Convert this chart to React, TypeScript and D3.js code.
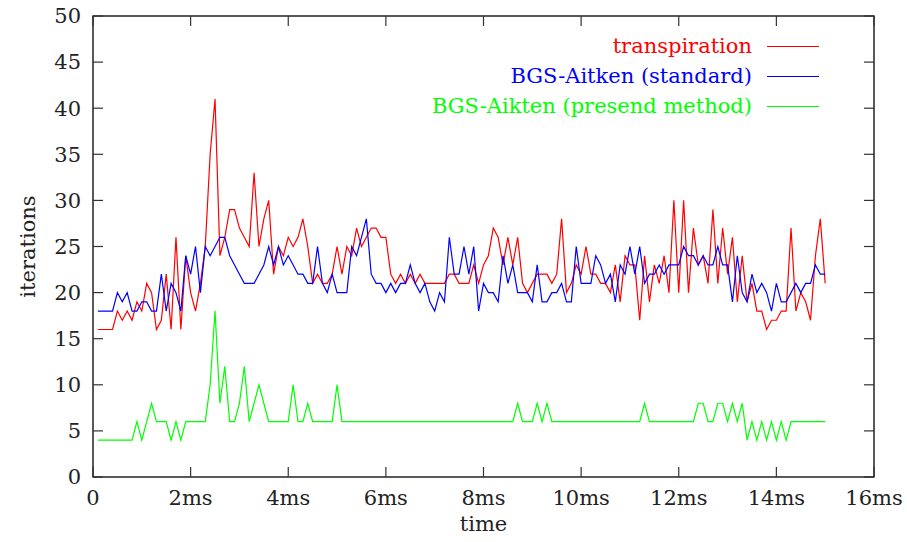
import React from "react";
import * as d3 from "d3";

const times: number[] = [
  0.1, 0.2, 0.3, 0.4, 0.5, 0.6, 0.7, 0.8, 0.9, 1.0,
  1.1, 1.2, 1.3, 1.4, 1.5, 1.6, 1.7, 1.8, 1.9, 2.0,
  2.1, 2.2, 2.3, 2.4, 2.5, 2.6, 2.7, 2.8, 2.9, 3.0,
  3.1, 3.2, 3.3, 3.4, 3.5, 3.6, 3.7, 3.8, 3.9, 4.0,
  4.1, 4.2, 4.3, 4.4, 4.5, 4.6, 4.7, 4.8, 4.9, 5.0,
  5.1, 5.2, 5.3, 5.4, 5.5, 5.6, 5.7, 5.8, 5.9, 6.0,
  6.1, 6.2, 6.3, 6.4, 6.5, 6.6, 6.7, 6.8, 6.9, 7.0,
  7.1, 7.2, 7.3, 7.4, 7.5, 7.6, 7.7, 7.8, 7.9, 8.0,
  8.1, 8.2, 8.3, 8.4, 8.5, 8.6, 8.7, 8.8, 8.9, 9.0,
  9.1, 9.2, 9.3, 9.4, 9.5, 9.6, 9.7, 9.8, 9.9, 10.0,
  10.1, 10.2, 10.3, 10.4, 10.5, 10.6, 10.7, 10.8, 10.9, 11.0,
  11.1, 11.2, 11.3, 11.4, 11.5, 11.6, 11.7, 11.8, 11.9, 12.0,
  12.1, 12.2, 12.3, 12.4, 12.5, 12.6, 12.7, 12.8, 12.9, 13.0,
  13.1, 13.2, 13.3, 13.4, 13.5, 13.6, 13.7, 13.8, 13.9, 14.0,
  14.1, 14.2, 14.3, 14.4, 14.5, 14.6, 14.7, 14.8, 14.9, 15.0,
];

const transpiration: number[] = [
  16, 16, 16, 16, 18, 17, 18, 17, 19, 18,
  21, 20, 16, 17, 22, 16, 26, 16, 24, 20,
  18, 21, 25, 35, 41, 24, 26, 29, 29, 27,
  26, 25, 33, 25, 28, 30, 22, 25, 24, 26,
  25, 26, 28, 25, 21, 22, 21, 21, 22, 25,
  22, 25, 24, 27, 25, 26, 27, 27, 26, 26,
  22, 21, 22, 21, 22, 21, 22, 21, 21, 21,
  21, 21, 22, 22, 21, 21, 21, 23, 21, 23,
  24, 27, 26, 23, 26, 23, 26, 21, 20, 21,
  22, 22, 22, 21, 22, 28, 20, 21, 23, 22,
  25, 22, 22, 21, 21, 20, 23, 19, 24, 23,
  23, 17, 24, 19, 23, 21, 24, 20, 30, 20,
  30, 20, 27, 23, 24, 21, 29, 21, 27, 22,
  26, 19, 24, 19, 21, 18, 18, 16, 17, 17,
  18, 18, 27, 18, 20, 19, 17, 24, 28, 21,
];

const bgsStandard: number[] = [
  18, 18, 18, 18, 20, 19, 20, 18, 18, 19,
  19, 18, 18, 22, 18, 21, 20, 18, 24, 22,
  25, 20, 25, 24, 25, 26, 26, 24, 23, 22,
  21, 21, 21, 22, 23, 25, 23, 25, 23, 24,
  23, 22, 22, 21, 21, 25, 21, 20, 22, 20,
  20, 20, 25, 24, 26, 28, 22, 21, 21, 20,
  21, 20, 21, 21, 23, 21, 20, 21, 19, 18,
  20, 19, 26, 22, 22, 25, 22, 25, 18, 21,
  20, 20, 19, 24, 21, 23, 20, 20, 20, 19,
  23, 19, 19, 20, 20, 21, 19, 19, 25, 21,
  21, 21, 24, 23, 21, 22, 19, 23, 22, 25,
  22, 25, 21, 22, 22, 23, 22, 23, 23, 23,
  25, 24, 24, 23, 24, 23, 23, 25, 23, 23,
  19, 24, 20, 19, 22, 20, 21, 20, 18, 21,
  19, 19, 20, 21, 20, 21, 21, 23, 22, 22,
];

const bgsPresent: number[] = [
  4, 4, 4, 4, 4, 4, 4, 4, 6, 4,
  6, 8, 6, 6, 6, 4, 6, 4, 6, 6,
  6, 6, 6, 10, 18, 8, 12, 6, 6, 8,
  12, 6, 8, 10, 8, 6, 6, 6, 6, 6,
  10, 6, 6, 8, 6, 6, 6, 6, 6, 10,
  6, 6, 6, 6, 6, 6, 6, 6, 6, 6,
  6, 6, 6, 6, 6, 6, 6, 6, 6, 6,
  6, 6, 6, 6, 6, 6, 6, 6, 6, 6,
  6, 6, 6, 6, 6, 6, 8, 6, 6, 6,
  8, 6, 8, 6, 6, 6, 6, 6, 6, 6,
  6, 6, 6, 6, 6, 6, 6, 6, 6, 6,
  6, 6, 8, 6, 6, 6, 6, 6, 6, 6,
  6, 6, 6, 8, 8, 6, 6, 8, 8, 6,
  8, 6, 8, 4, 6, 4, 6, 4, 6, 4,
  6, 4, 6, 6, 6, 6, 6, 6, 6, 6,
];

const xTicks: number[] = [0, 2, 4, 6, 8, 10, 12, 14, 16];
const xTickLabels: string[] = ["0", "2ms", "4ms", "6ms", "8ms", "10ms", "12ms", "14ms", "16ms"];
const yTicks: number[] = [0, 5, 10, 15, 20, 25, 30, 35, 40, 45, 50];

const seriesNames: string[] = [
  "transpiration",
  "BGS-Aitken (standard)",
  "BGS-Aikten (presend method)",
];
const seriesColors: string[] = ["#ff0000", "#0000ff", "#00ff00"];
const seriesData: number[][] = [transpiration, bgsStandard, bgsPresent];

const W = 907;
const H = 542;
const left = 93;
const right = 874;
const top = 16;
const bottom = 477;
const FONT = '"DejaVu Serif", serif';

export default function App() {
  const x = d3.scaleLinear().domain([0, 16]).range([left, right]);
  const y = d3.scaleLinear().domain([0, 50]).range([bottom, top]);
  const tickLen = 10;

  const line = (vals: number[]) =>
    d3
      .line<number>()
      .x((_, i) => x(times[i]))
      .y((v) => y(v))(vals) || "";

  const ts: React.CSSProperties = { fontFamily: FONT, fontSize: "21px" };

  return (
    <svg
      width={W}
      height={H}
      style={{ position: "absolute", left: 0, top: 0, background: "#fff", fontFamily: FONT }}
    >
      <rect x={0} y={0} width={W} height={H} fill="#fff" />
      {seriesData.map((vals, k) => (
        <path
          key={"s" + k}
          d={line(vals)}
          fill="none"
          stroke={seriesColors[k]}
          strokeWidth={1.2}
        />
      ))}
      <rect
        x={left}
        y={top}
        width={right - left}
        height={bottom - top}
        fill="none"
        stroke="#000"
        strokeWidth={1.3}
      />
      {yTicks.map((t) => (
        <g key={"y" + t}>
          <line x1={left} x2={left + tickLen} y1={y(t)} y2={y(t)} stroke="#333" strokeWidth={1.2} />
          <line x1={right} x2={right - tickLen} y1={y(t)} y2={y(t)} stroke="#333" strokeWidth={1.2} />
          <text x={81} y={y(t)} dy="0.35em" textAnchor="end" style={ts} fill="#222">
            {t}
          </text>
        </g>
      ))}
      {xTicks.map((t, i) => (
        <g key={"x" + t}>
          <line x1={x(t)} x2={x(t)} y1={bottom} y2={bottom - tickLen} stroke="#333" strokeWidth={1.2} />
          <line x1={x(t)} x2={x(t)} y1={top} y2={top + tickLen} stroke="#333" strokeWidth={1.2} />
          <text x={x(t)} y={505} textAnchor="middle" style={ts} fill="#222">
            {xTickLabels[i]}
          </text>
        </g>
      ))}
      <text x={(left + right) / 2} y={531} textAnchor="middle" style={ts} fill="#222">
        time
      </text>
      <text
        transform={`translate(35, ${(top + bottom) / 2}) rotate(-90)`}
        textAnchor="middle"
        style={ts}
        fill="#222"
      >
        iterations
      </text>
      {seriesNames.map((name, k) => {
        const base = 53 + k * 30;
        return (
          <g key={"l" + k}>
            <text x={752} y={base} textAnchor="end" style={ts} fill={seriesColors[k]}>
              {name}
            </text>
            <line
              x1={767}
              x2={819}
              y1={Math.round(base - 7.5) + 0.5}
              y2={Math.round(base - 7.5) + 0.5}
              stroke={seriesColors[k]}
              strokeWidth={1.2}
            />
          </g>
        );
      })}
    </svg>
  );
}
